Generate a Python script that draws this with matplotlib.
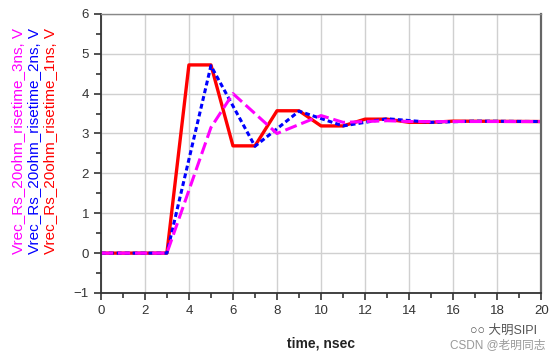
import matplotlib
matplotlib.use("Agg")
import matplotlib.pyplot as plt
from matplotlib.ticker import MultipleLocator

plt.rcParams['font.family'] = ['Liberation Sans', 'Noto Sans CJK SC', 'DejaVu Sans']

# Daten (Zeit in ns, Spannung in V)
t_1ns = [0, 3, 4, 5, 6, 7, 8, 9, 10, 11, 12, 13, 14, 15, 16, 20]
v_1ns = [0, 0, 4.72, 4.72, 2.69, 2.69, 3.57, 3.57, 3.19, 3.19, 3.36, 3.36, 3.28, 3.28, 3.31, 3.3]

t_2ns = [0, 3, 5, 7, 9, 11, 13, 15, 17, 20]
v_2ns = [0, 0, 4.7, 2.68, 3.56, 3.19, 3.37, 3.28, 3.31, 3.3]

t_3ns = [0, 3, 5, 6, 8, 10, 11, 12, 13, 14, 20]
v_3ns = [0, 0, 3.15, 4.0, 3.0, 3.45, 3.28, 3.3, 3.32, 3.3, 3.3]

labels = ["Vrec_Rs_20ohm_risetime_3ns, V",
          "Vrec_Rs_20ohm_risetime_2ns, V",
          "Vrec_Rs_20ohm_risetime_1ns, V"]
colors = ["#ff00ff", "#0000ff", "#ff0000"]

fig = plt.figure(figsize=(5.54, 3.56), dpi=100)
ax = fig.add_axes([0.182, 0.177, 0.795, 0.784])

# Reihenfolge: rot unten, magenta oben
ax.plot(t_1ns, v_1ns, color=colors[2], lw=2.4)
ax.plot(t_2ns, v_2ns, color=colors[1], lw=2.2, dashes=(1.6, 1.0))
ax.plot(t_3ns, v_3ns, color=colors[0], lw=2.2, dashes=(4, 1.6))

ax.set_xlim(0, 20)
ax.set_ylim(-1, 6)
ax.xaxis.set_major_locator(MultipleLocator(2))
ax.xaxis.set_minor_locator(MultipleLocator(1))
ax.yaxis.set_major_locator(MultipleLocator(1))
ax.yaxis.set_minor_locator(MultipleLocator(0.5))
ax.grid(True, which='major', color='#d0d0d0', lw=1.0)
ax.set_axisbelow(True)

ax.tick_params(which='major', direction='out', length=5, width=1.2, color='#333333',
               labelsize=9.5, labelcolor='#333333')
ax.tick_params(which='minor', direction='out', length=3.5, width=1.2, color='#333333')
for side in ['left', 'bottom']:
    ax.spines[side].set_color('#333333')
    ax.spines[side].set_linewidth(1.3)
ax.spines['top'].set_color('#888888')
ax.spines['top'].set_linewidth(1.0)
ax.spines['right'].set_color('#666666')
ax.spines['right'].set_linewidth(1.6)

ax.set_xlabel("time, nsec", fontsize=10, fontweight='bold', color='#222222', labelpad=14)

# senkrechte Legende links
for i, (lab, col) in enumerate(zip(labels, colors)):
    fig.text(18 / 554 + i * 16 / 554, 1 - 141 / 356, lab, rotation=90, color=col,
             fontsize=11, ha='center', va='center')

# Wasserzeichen
fig.text(470 / 554, 1 - 331 / 356, "\u25cb\u25cb 大明SIPI", fontsize=9, color='#555555',
         ha='left', va='center')
fig.text(545 / 554, 1 - 345 / 356, "CSDN @老明同志", fontsize=8.5, color='#999999',
         ha='right', va='center')

fig.savefig("out.png", dpi=100)
